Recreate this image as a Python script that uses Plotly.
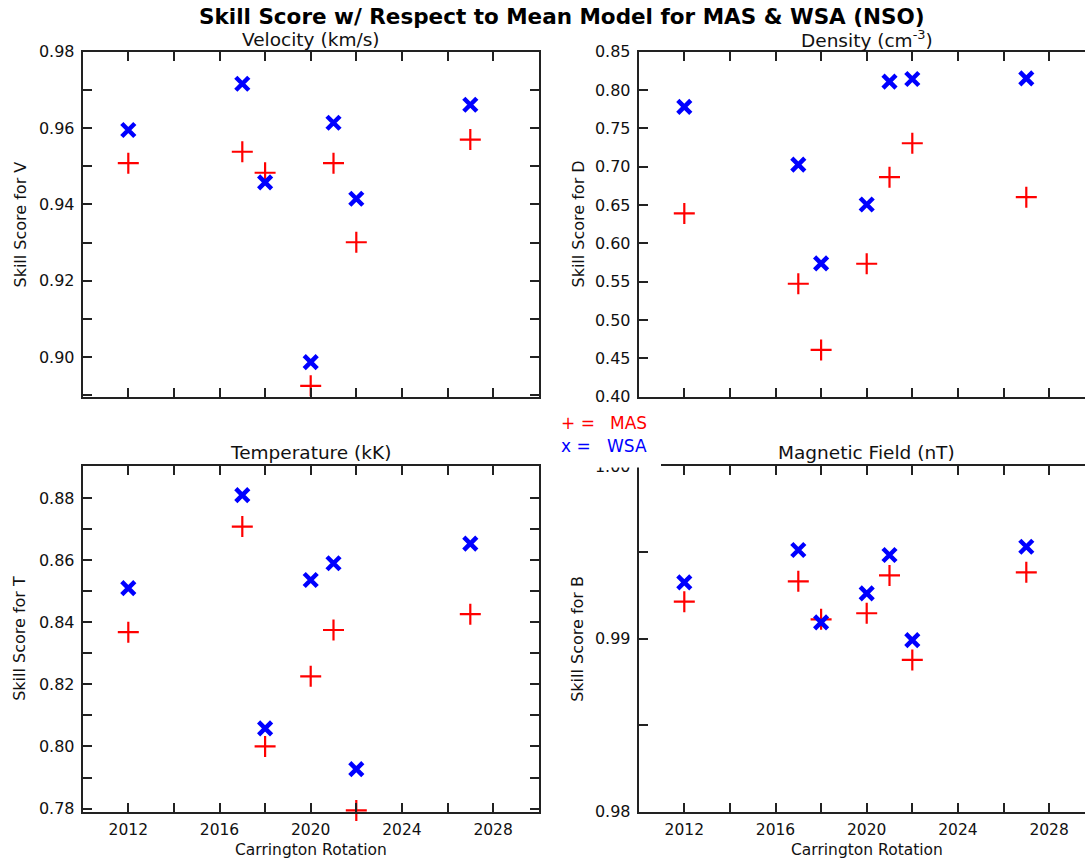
import plotly.graph_objects as go

# ---- data ----
years = [2012, 2017, 2018, 2020, 2021, 2022, 2027]
vel_mas = [0.9508, 0.9538, 0.9483, 0.8925, 0.9508, 0.9301, 0.9570]
vel_wsa = [0.9595, 0.9716, 0.9458, 0.8987, 0.9614, 0.9415, 0.9661]
den_mas = [0.6389, 0.5472, 0.4608, 0.5733, 0.6862, 0.7305, 0.6602]
den_wsa = [0.7779, 0.7027, 0.5737, 0.6506, 0.8109, 0.8144, 0.8153]
tem_mas = [0.8368, 0.8708, 0.8000, 0.8226, 0.8375, 0.7794, 0.8426]
tem_wsa = [0.8510, 0.8809, 0.8058, 0.8536, 0.8590, 0.7927, 0.8653]
mag_mas = [0.99215, 0.99333, 0.99113, 0.99148, 0.99367, 0.98878, 0.99385]
mag_wsa = [0.99327, 0.99514, 0.99095, 0.99263, 0.99485, 0.98993, 0.99533]

panel_titles = ["Velocity (km/s)", "Density (cm<sup>-3</sup>)",
                "Temperature (kK)", "Magnetic Field (nT)"]
y_titles = ["Skill Score for V", "Skill Score for D",
            "Skill Score for T", "Skill Score for B"]
main_title = "Skill Score w/ Respect to Mean Model for MAS &amp; WSA (NSO)"
x_title = "Carrington Rotation"

W, H = 1085, 859
FONT = "DejaVu Sans"
AX = "#222222"


def fx(px):
    return px / W


def fy(py):
    return 1 - py / H


# panel geometry (pixels)
left_x = (82.7, 538.7)
right_x = (638.7, 1085.0)
top_y = (51.7, 397.3)
bot_y = (466.0, 811.7)
px_per_unit = 22.8
right_xmax = 2010 + (right_x[1] - right_x[0]) / px_per_unit

fig = go.Figure()

series = [(vel_mas, vel_wsa), (den_mas, den_wsa), (tem_mas, tem_wsa), (mag_mas, mag_wsa)]
for i, (mas, wsa) in enumerate(series):
    xa = "x" if i == 0 else f"x{i+1}"
    ya = "y" if i == 0 else f"y{i+1}"
    fig.add_trace(go.Scatter(
        x=years, y=mas, mode="markers", xaxis=xa, yaxis=ya, cliponaxis=False,
        marker=dict(symbol="cross-thin", size=15, color="#ff0000",
                    line=dict(color="#ff0000", width=2.2)),
        showlegend=False, hoverinfo="x+y"))
    fig.add_trace(go.Scatter(
        x=years, y=wsa, mode="markers", xaxis=xa, yaxis=ya, cliponaxis=False,
        marker=dict(symbol="x-thin", size=13, color="#0000ff",
                    line=dict(color="#0000ff", width=4.5)),
        showlegend=False, hoverinfo="x+y"))

tick_common = dict(ticks="inside", ticklen=9, tickwidth=2, tickcolor=AX)
ax_common = dict(showline=True, linecolor=AX, linewidth=2, showgrid=False,
                 zeroline=False, automargin=False, **tick_common)


def xaxis(domain, rng, labels):
    return dict(domain=domain, range=rng, tickmode="linear",
                tick0=2012, dtick=4, showticklabels=labels, mirror="ticks",
                ticklabelstandoff=3,
                tickfont=dict(family=FONT, size=15.5, color="#111"),
                minor=dict(tick0=2010, dtick=2, **tick_common), **ax_common)


def yaxis(domain, rng, tick0, dtick, minor_dtick, mirror=True):
    d = dict(domain=domain, range=rng, tickmode="linear", tick0=tick0,
             dtick=dtick, tickformat=".2f", mirror="ticks" if mirror else False,
             ticklabelstandoff=3,
             tickfont=dict(family=FONT, size=16, color="#111"), **ax_common)
    if minor_dtick:
        d["minor"] = dict(tick0=tick0, dtick=minor_dtick, **tick_common)
    return d


dl = [fx(left_x[0]), fx(left_x[1])]
dr = [fx(right_x[0]), 1.0]
dt = [fy(top_y[1]), fy(top_y[0])]
db = [fy(bot_y[1]), fy(bot_y[0])]

fig.update_layout(
    width=W, height=H, margin=dict(l=0, r=0, t=0, b=0, pad=0),
    paper_bgcolor="white", plot_bgcolor="white", showlegend=False,
    font=dict(family=FONT, color="#111"),
    xaxis=dict(xaxis(dl, [2010, 2030], False), anchor="y"),
    yaxis=dict(yaxis(dt, [0.8895, 0.98], 0.90, 0.02, 0.01), anchor="x"),
    xaxis2=dict(xaxis(dr, [2010, right_xmax], False), anchor="y2"),
    yaxis2=dict(yaxis(dt, [0.399, 0.85], 0.40, 0.05, None, mirror=False), anchor="x2"),
    xaxis3=dict(xaxis(dl, [2010, 2030], True), anchor="y3"),
    yaxis3=dict(yaxis(db, [0.7790, 0.8903], 0.78, 0.02, 0.01), anchor="x3"),
    xaxis4=dict(xaxis(dr, [2010, right_xmax], True), anchor="y4"),
    yaxis4=dict(yaxis(db, [0.98, 1.00], 0.98, 0.01, 0.005, mirror=False), anchor="x4"),
)

ann = []


def add_text(text, x, y, size, color="#111", bold=False, angle=0, xanchor="center"):
    t = f"<b>{text}</b>" if bold else text
    ann.append(dict(text=t, x=fx(x), y=fy(y), xref="paper", yref="paper",
                    showarrow=False, xanchor=xanchor, yanchor="middle",
                    textangle=angle, borderpad=0,
                    font=dict(family=FONT, size=size, color=color)))


add_text(main_title, 562, 17, 21.5, color="#000", bold=True)
cx_l = (left_x[0] + left_x[1]) / 2
cx_r = right_x[0] + 456 / 2
add_text(panel_titles[0], cx_l, 39, 18.5)
add_text(panel_titles[1], cx_r, 39, 18.5)
add_text(panel_titles[2], cx_l, 452, 18.5)
add_text(panel_titles[3], cx_r, 452, 18.5)
add_text(y_titles[0], 20, (top_y[0] + top_y[1]) / 2, 16, angle=-90)
add_text(y_titles[1], 578, (top_y[0] + top_y[1]) / 2, 16, angle=-90)
add_text(y_titles[2], 20, (bot_y[0] + bot_y[1]) / 2, 16, angle=-90)
add_text(y_titles[3], 578, (bot_y[0] + bot_y[1]) / 2, 16, angle=-90)
add_text(x_title, cx_l, 849.5, 15.5)
add_text(x_title, cx_r, 849.5, 15.5)

# legend text
add_text("+ =", 560, 423, 17, color="#ff0000", xanchor="left")
add_text("MAS", 609, 423, 17, color="#ff0000", xanchor="left")
add_text("x =", 560, 446, 17, color="#0000ff", xanchor="left")
add_text("WSA", 606, 446, 17, color="#0000ff", xanchor="left")

fig.update_layout(annotations=ann)

# white patch that hides the corner of the lower-right frame, as in the original
fig.add_shape(type="rect", xref="paper", yref="paper", layer="above",
              x0=fx(592), x1=fx(661), y0=fy(467.5), y1=fy(455),
              fillcolor="white", line=dict(width=0))

fig.write_html("out.html")
